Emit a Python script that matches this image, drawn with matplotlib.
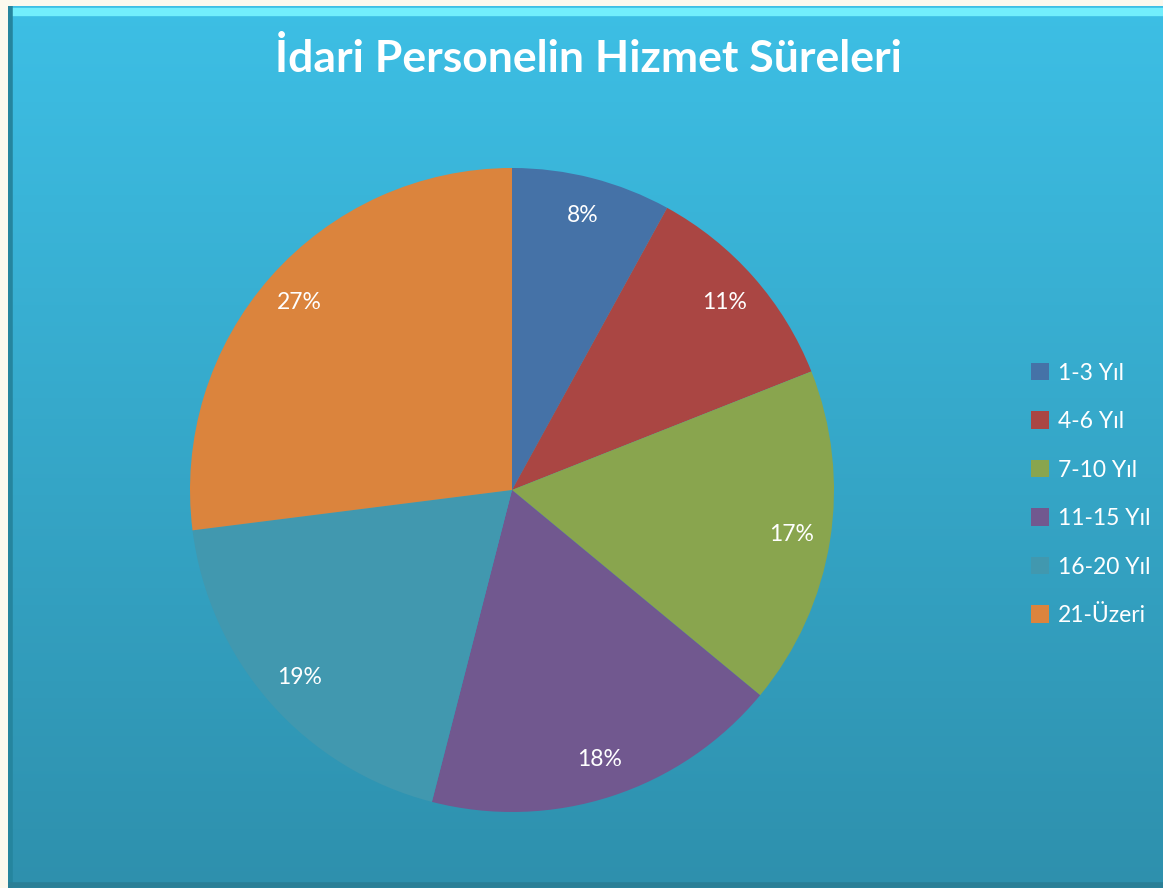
import numpy as np
import matplotlib.pyplot as plt
from matplotlib.colors import LinearSegmentedColormap

# chart data
categories = ["1-3 Yıl", "4-6 Yıl", "7-10 Yıl", "11-15 Yıl", "16-20 Yıl", "21-Üzeri"]
shares = [8, 11, 17, 18, 19, 27]
colors = ["#4572a7", "#aa4643", "#89a54e", "#71588f", "#4198af", "#db843d"]
title = "İdari Personelin Hizmet Süreleri"

W, H = 1163, 888
fig = plt.figure(figsize=(W / 100, H / 100), dpi=100)
fig.patch.set_facecolor("#fbf9ee")
plt.rcParams["font.family"] = ["Lato", "DejaVu Sans"]

# background panel with vertical gradient
bg = fig.add_axes([8 / W, 0, 1 - 8 / W, 1 - 6 / H])
grad = np.linspace(0, 1, 256).reshape(-1, 1)
cmap = LinearSegmentedColormap.from_list("bg", ["#3dbfe5", "#2e90ad"])
bg.imshow(grad, aspect="auto", cmap=cmap, extent=[0, 1, 0, 1], origin="upper")
bg.plot([0, 1], [0.993, 0.993], color="#72eefc", lw=6, solid_capstyle="butt")
bg.plot([0.002, 0.002], [0, 1], color="#25859e", lw=4)
bg.plot([0, 1], [0.003, 0.003], color="#2a7f96", lw=4)
bg.set_xlim(0, 1)
bg.set_ylim(0, 1)
bg.axis("off")

fig.text(588 / W, 1 - 58 / H, title, color="white", fontsize=32,
         fontweight="bold", ha="center", va="center")

# pie
cx, cy, r = 512, 490, 322
ax = fig.add_axes([(cx - r) / W, (H - cy - r) / H, 2 * r / W, 2 * r / H])
wedges, texts, autotexts = ax.pie(
    shares, colors=colors, startangle=90, counterclock=False,
    autopct="%d%%", pctdistance=0.88, radius=1.0,
    wedgeprops=dict(linewidth=0),
    textprops=dict(color="white", fontsize=16.5))
ax.set_aspect("equal")
ax.set_xlim(-1, 1)
ax.set_ylim(-1, 1)

leg = fig.legend(wedges, categories, loc="upper left",
                 bbox_to_anchor=(1010 / W, 1 - 342 / H), frameon=False,
                 labelcolor="white", fontsize=16.5, handlelength=0.8,
                 handleheight=0.8, handletextpad=0.4, labelspacing=1.2)

fig.savefig("out.png", dpi=100, facecolor=fig.get_facecolor())
